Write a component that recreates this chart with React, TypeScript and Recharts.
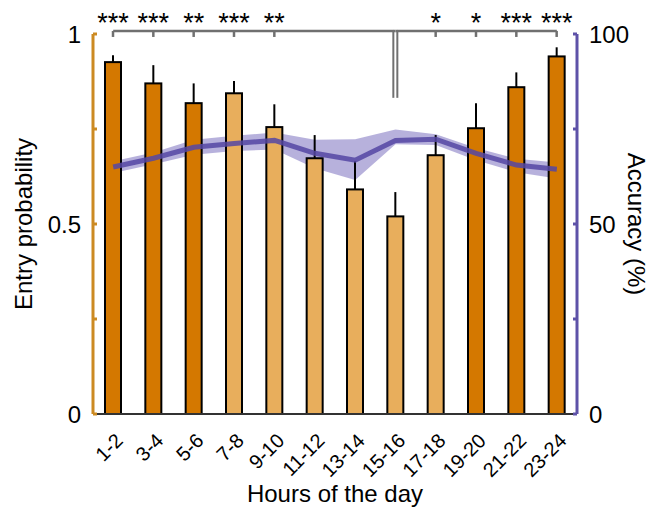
import React from "react";
import { ComposedChart, Bar, Line, Area, XAxis, YAxis, ErrorBar, ReferenceLine } from "recharts";

const hours = ["1-2", "3-4", "5-6", "7-8", "9-10", "11-12", "13-14", "15-16", "17-18", "19-20", "21-22", "23-24"];
const entryProb = [0.926, 0.87, 0.818, 0.844, 0.755, 0.673, 0.591, 0.52, 0.681, 0.752, 0.86, 0.941];
const entryErrUp = [0.018, 0.048, 0.052, 0.032, 0.06, 0.061, 0.075, 0.064, 0.053, 0.066, 0.039, 0.024];
const nightBars = [true, true, true, false, false, false, false, false, false, true, true, true];
const stars = ["***", "***", "**", "***", "**", "", "", "", "*", "*", "***", "***"];
const accuracy = [65.0, 67.3, 70.2, 71.2, 72.0, 68.6, 66.8, 72.0, 72.3, 68.6, 65.5, 64.4];
const accLow = [63.4, 65.7, 68.2, 69.2, 69.6, 64.7, 61.6, 71.0, 70.8, 66.8, 63.6, 62.0];
const accHigh = [66.5, 68.8, 72.2, 73.2, 74.1, 72.2, 72.3, 74.9, 73.6, 70.0, 67.2, 66.2];
const pivotHour = "15-16";
const leftTicks = [0, 0.25, 0.5, 0.75, 1];
const rightTicks = [0, 25, 50, 75, 100];

const data = hours.map((hour, i) => ({
  hour,
  entry: entryProb[i],
  entryErr: [0, entryErrUp[i]],
  night: nightBars[i],
  stars: stars[i],
  accuracy: accuracy[i],
  accRange: [accLow[i], accHigh[i]],
  pivot: hour === pivotHour,
}));

const FONT = '"Liberation Sans", Arial, sans-serif';
const ORANGE_AXIS = "#CC8A22";
const PURPLE_AXIS = "#5E52A8";
const BRACKET = "#707070";
const bracketLevel = 1.008;
const pivotBottom = 0.832;

const BarShape = (props: any) => {
  const { x, y, width, height, payload } = props;
  const base = y + height;
  const pxPerUnit = height / payload.entry;
  const by = base - pxPerUnit * bracketLevel;
  const cx = x + width / 2;
  return (
    <g>
      <rect x={x} y={y} width={width} height={height} fill={payload.night ? "#D47800" : "#E8AE5C"} stroke="#000" strokeWidth={2} />
      {payload.stars && (
        <g>
          <line x1={cx} x2={cx} y1={by} y2={by + 6} stroke={BRACKET} strokeWidth={2.5} />
          <text x={cx} y={by + 1} textAnchor="middle" fontSize={27} fontFamily={FONT} fill="#000">
            {payload.stars}
          </text>
        </g>
      )}
      {payload.pivot && (
        <g>
          <line x1={cx - 2} x2={cx - 2} y1={by - 1} y2={base - pxPerUnit * pivotBottom} stroke={BRACKET} strokeWidth={2} />
          <line x1={cx + 2} x2={cx + 2} y1={by - 1} y2={base - pxPerUnit * pivotBottom} stroke={BRACKET} strokeWidth={2} />
        </g>
      )}
    </g>
  );
};

const LeftTick = (props: any) => {
  const { x, y, payload } = props;
  const v = payload.value;
  const show = v === 0 || v === 0.5 || v === 1;
  return (
    <g>
      <line x1={x} x2={x + 4} y1={y} y2={y} stroke={ORANGE_AXIS} strokeWidth={3} />
      {show && (
        <text x={x - 12} y={y} dy="0.36em" textAnchor="end" fontSize={24} fontFamily={FONT} fill="#000">
          {String(v)}
        </text>
      )}
    </g>
  );
};

const RightTick = (props: any) => {
  const { x, y, payload } = props;
  const v = payload.value;
  const show = v === 0 || v === 50 || v === 100;
  return (
    <g>
      <line x1={x - 4} x2={x} y1={y} y2={y} stroke={PURPLE_AXIS} strokeWidth={3} />
      {show && (
        <text x={x + 12} y={y} dy="0.36em" textAnchor="start" fontSize={24} fontFamily={FONT} fill="#000">
          {String(v)}
        </text>
      )}
    </g>
  );
};

const HourTick = (props: any) => {
  const { x, y, payload } = props;
  const tx = x + 11;
  const ty = y + 28;
  return (
    <text x={tx} y={ty} textAnchor="end" fontSize={20} fontFamily={FONT} fill="#000" transform={`rotate(-45, ${tx}, ${ty})`}>
      {payload.value}
    </text>
  );
};

const LeftTitle = (props: any) => {
  const vb = props.viewBox || { x: 0, y: 34, width: 93, height: 380 };
  const tx = vb.x + 32;
  const ty = vb.y + vb.height / 2;
  return (
    <text x={tx} y={ty} textAnchor="middle" fontSize={24} fontFamily={FONT} fill="#000" transform={`rotate(-90, ${tx}, ${ty})`}>
      Entry probability
    </text>
  );
};

const RightTitle = (props: any) => {
  const vb = props.viewBox || { x: 577, y: 34, width: 75, height: 380 };
  const tx = vb.x + 51;
  const ty = vb.y + vb.height / 2;
  return (
    <text x={tx} y={ty} textAnchor="middle" fontSize={24} fontFamily={FONT} fill="#000" transform={`rotate(90, ${tx}, ${ty})`}>
      Accuracy (%)
    </text>
  );
};

const BottomTitle = (props: any) => {
  const vb = props.viewBox || { x: 93, y: 414, width: 484, height: 95 };
  return (
    <text x={vb.x + vb.width / 2} y={vb.y + 88} textAnchor="middle" fontSize={24} fontFamily={FONT} fill="#000">
      Hours of the day
    </text>
  );
};

export default function App() {
  return (
    <div style={{ position: "absolute", left: 0, top: 0, width: 652, height: 509, background: "#fff" }}>
      <ComposedChart width={652} height={509} data={data} margin={{ top: 34, right: 0, bottom: 0, left: 0 }}>
        <XAxis
          dataKey="hour"
          height={95}
          axisLine={{ stroke: "#333", strokeWidth: 2 }}
          tickLine={false}
          tickSize={0}
          tickMargin={0}
          interval={0}
          tick={<HourTick />}
          label={BottomTitle}
        />
        <YAxis
          yAxisId="left"
          orientation="left"
          width={93}
          domain={[0, 1]}
          ticks={leftTicks}
          axisLine={{ stroke: ORANGE_AXIS, strokeWidth: 3 }}
          tickLine={false}
          tickSize={0}
          tickMargin={0}
          tick={<LeftTick />}
          label={LeftTitle}
        />
        <YAxis
          yAxisId="right"
          orientation="right"
          width={75}
          domain={[0, 100]}
          ticks={rightTicks}
          axisLine={{ stroke: PURPLE_AXIS, strokeWidth: 3 }}
          tickLine={false}
          tickSize={0}
          tickMargin={0}
          tick={<RightTick />}
          label={RightTitle}
        />
        <Bar yAxisId="left" dataKey="entry" barSize={16} shape={<BarShape />} isAnimationActive={false}>
          <ErrorBar dataKey="entryErr" direction="y" width={0} stroke="#000" strokeWidth={2} />
        </Bar>
        <Area
          yAxisId="right"
          dataKey="accRange"
          type="linear"
          fill="#6F63BA"
          fillOpacity={0.5}
          stroke="none"
          isAnimationActive={false}
          activeDot={false}
        />
        <Line
          yAxisId="right"
          dataKey="accuracy"
          type="linear"
          stroke="#5546A3"
          strokeOpacity={0.85}
          strokeWidth={5}
          dot={false}
          activeDot={false}
          isAnimationActive={false}
        />
        <ReferenceLine
          yAxisId="left"
          segment={[{ x: hours[0], y: bracketLevel }, { x: pivotHour, y: bracketLevel }]}
          stroke={BRACKET}
          strokeWidth={2.5}
          ifOverflow="visible"
        />
        <ReferenceLine
          yAxisId="left"
          segment={[{ x: pivotHour, y: bracketLevel }, { x: hours[hours.length - 1], y: bracketLevel }]}
          stroke={BRACKET}
          strokeWidth={2.5}
          ifOverflow="visible"
        />
      </ComposedChart>
    </div>
  );
}
